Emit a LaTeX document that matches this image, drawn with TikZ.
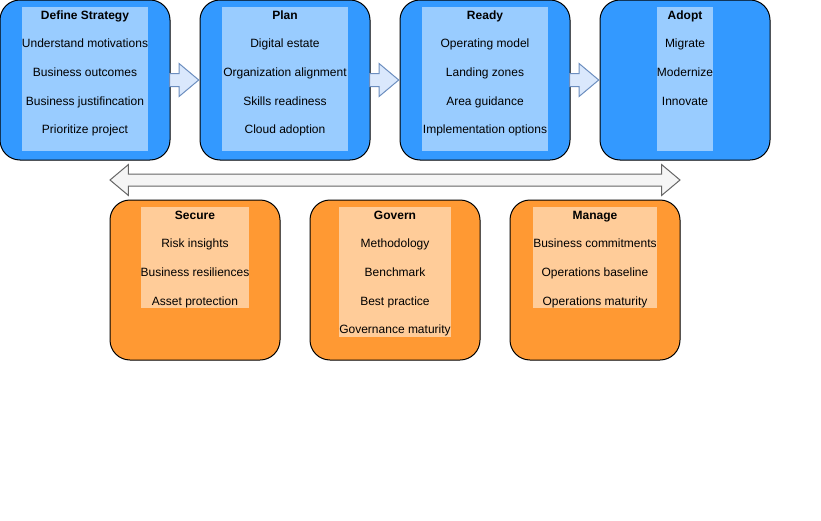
\documentclass[tikz,border=0pt]{standalone}
\usepackage{fontspec}
\setmainfont{Liberation Sans}
\usetikzlibrary{shapes.arrows}
\definecolor{phaseblue}{HTML}{3399FF}
\definecolor{listblue}{HTML}{99CCFF}
\definecolor{phaseorange}{HTML}{FF9933}
\definecolor{listorange}{HTML}{FFCC99}
\definecolor{arrowfill}{HTML}{DAE8FC}
\definecolor{arrowline}{HTML}{6C8EBF}
\definecolor{spanfill}{HTML}{F5F5F5}
\definecolor{spanline}{HTML}{666666}
\begin{document}
\begin{tikzpicture}[x=0.75pt, y=-0.75pt, font=\fontsize{9}{11}\selectfont, line width=0.75pt,
      phase/.style={draw, rounded corners=15pt, minimum width=127.5pt, minimum height=120pt, inner sep=0pt, fill=phaseblue},
      disc/.style={phase, fill=phaseorange},
      list/.style={inner sep=0pt, minimum width=94.5pt, minimum height=108pt, fill=listblue},
      olist/.style={list, minimum height=75.75pt, fill=listorange},
      title/.style={anchor=base, font=\fontsize{9}{11}\selectfont\bfseries},
      item/.style={anchor=base},
      flow/.style={single arrow, draw=arrowline, fill=arrowfill, inner xsep=0pt, inner ysep=4.5pt,
        single arrow head extend=7.5pt, single arrow tip angle=80, minimum height=21.75pt, anchor=tip},
      span/.style={double arrow, draw=spanline, fill=spanfill, inner xsep=0pt, inner ysep=4.125pt,
        double arrow head extend=7.125pt, double arrow tip angle=80, minimum height=427.5pt}]
    \useasboundingbox (0,0) rectangle (821,521);
    % phases
    \node[phase] (ds)    at (85,80)  {};
    \node[phase] (plan)  at (285,80) {};
    \node[phase] (ready) at (485,80) {};
    \node[phase] (adopt) at (685,80) {};
    \node[list] (ds-list)    at (85,79)  {};
    \node[list] (plan-list)  at (285,79) {};
    \node[list] (ready-list) at (485,79) {};
    \node[list, minimum width=42pt] (adopt-list) at (685,79) {};
    \node[title] (ds-t)    at (85,19)  {Define Strategy};
    \node[title] (plan-t)  at (285,19) {Plan};
    \node[title] (ready-t) at (485,19) {Ready};
    \node[title] (adopt-t) at (685,19) {Adopt};
    \foreach \txt [count=\i] in {Understand motivations, Business outcomes, Business justifincation, Prioritize project}
      \node[item] (ds-\i) at (85,19+\i*28.67) {\txt};
    \foreach \txt [count=\i] in {Digital estate, Organization alignment, Skills readiness, Cloud adoption}
      \node[item] (plan-\i) at (285,19+\i*28.67) {\txt};
    \foreach \txt [count=\i] in {Operating model, Landing zones, Area guidance, Implementation options}
      \node[item] (ready-\i) at (485,19+\i*28.67) {\txt};
    \foreach \txt [count=\i] in {Migrate, Modernize, Innovate}
      \node[item] (adopt-\i) at (685,19+\i*28.67) {\txt};
    \node[flow] (f1) at (plan.west)  {};
    \node[flow] (f2) at (ready.west) {};
    \node[flow] (f3) at (adopt.west) {};
    % disciplines
    \node[span] (across) at (395,180) {};
    \node[disc] (sec) at (195,280) {};
    \node[disc] (gov) at (395,280) {};
    \node[disc] (man) at (595,280) {};
    \node[olist, minimum width=81pt] (sec-list) at (195,257.5) {};
    \node[olist, minimum width=84pt, minimum height=97.5pt] (gov-list) at (395,272) {};
    \node[olist, minimum width=93pt] (man-list) at (595,257.5) {};
    \node[title] (sec-t) at (195,219) {Secure};
    \node[title] (gov-t) at (395,219) {Govern};
    \node[title] (man-t) at (595,219) {Manage};
    \foreach \txt [count=\i] in {Risk insights, Business resiliences, Asset protection}
      \node[item] (sec-\i) at (195,219+\i*28.67) {\txt};
    \foreach \txt [count=\i] in {Methodology, Benchmark, Best practice, Governance maturity}
      \node[item] (gov-\i) at (395,219+\i*28.67) {\txt};
    \foreach \txt [count=\i] in {Business commitments, Operations baseline, Operations maturity}
      \node[item] (man-\i) at (595,219+\i*28.67) {\txt};
  \end{tikzpicture}
\end{document}
